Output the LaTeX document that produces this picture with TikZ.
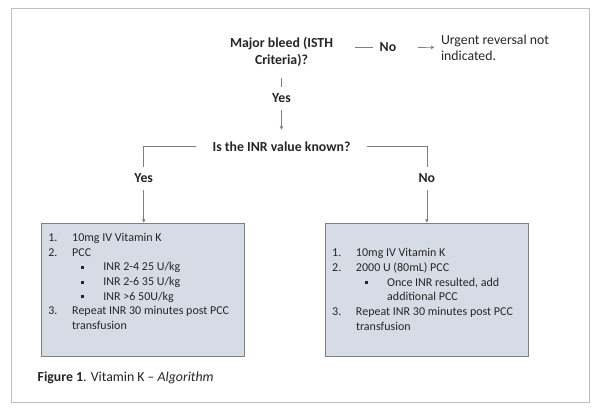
\documentclass[tikz,border=0pt]{standalone}
\usepackage{fontspec}
\setmainfont{Carlito}
\usepackage{xcolor}
\usetikzlibrary{arrows.meta,positioning}

\definecolor{boxfill}{HTML}{D6DCE5}
\definecolor{linegray}{HTML}{7F7F7F}
\definecolor{framegray}{HTML}{BFBFBF}
\definecolor{textdark}{HTML}{262626}

\newcommand{\numitem}[2]{\makebox[23.8pt][l]{#1}#2}
\newcommand{\planbullet}[1]{\hspace*{32.8pt}\makebox[22.2pt][l]{\rule[2pt]{3pt}{3pt}}#1}
\newcommand{\planindent}[1]{\hspace*{23.8pt}#1}

\begin{document}
\begin{tikzpicture}[
    x=1pt,
    y=-1pt,
    font=\fontsize{13.8}{16.6}\selectfont,
    every node/.style={text=textdark},
    decision/.style={
        align=center,
        font=\fontsize{13.8}{16.6}\selectfont\bfseries,
        inner xsep=#1,
        inner ysep=12pt
    },
    answer/.style={
        font=\fontsize{13.8}{16.6}\selectfont\bfseries,
        inner xsep=7pt,
        inner ysep=6.5pt
    },
    result/.style={
        align=left,
        font=\fontsize{13.8}{16}\selectfont,
        inner xsep=6.5pt
    },
    plan/.style={
        rectangle,
        draw=linegray,
        fill=boxfill,
        line width=0.8pt,
        minimum width=202.3pt,
        minimum height=133pt
    },
    steps/.style={
        align=left,
        anchor=north west,
        inner sep=0pt,
        font=\fontsize{12}{14.7}\selectfont
    },
    flowline/.style={line width=0.6pt, draw=linegray},
    flowarrow/.style={-{Triangle[length=3.2pt,width=3.2pt]}, line width=0.6pt, draw=linegray}
]

\useasboundingbox (0,0) rectangle (595,412);
\draw[framegray, line width=0.8pt] (11,8) rectangle (589,402);

\node[decision=22pt] (bleed) at (281.5,51.7) {Major bleed (ISTH\\Criteria)?};
\node[answer] (bleedno) at (388,47.5) {No};
\node[result, anchor=west] (noreversal) at (434.3,47.4) {Urgent reversal not\\indicated.};
\node[answer] (bleedyes) at (281.5,98.3) {Yes};
\node[decision=16pt] (inr) at (281.5,146.7) {Is the INR value known?};
\node[answer] (inryes) at (143.7,178.5) {Yes};
\node[answer] (inrno) at (426.8,178.5) {No};

\node[plan] (knownbox) at (142.85,289.5) {};
\node[plan] (unknownbox) at (426.75,289.5) {};

\node[steps] (knownsteps) at (48.2,233) {
    \numitem{1.}{10mg IV Vitamin K}\\
    \numitem{2.}{PCC}\\
    \planbullet{INR 2-4 25 U/kg}\\
    \planbullet{INR 2-6 35 U/kg}\\
    \planbullet{INR >6 50U/kg}\\
    \numitem{3.}{Repeat INR 30 minutes post PCC}\\
    \planindent{transfusion}};

\node[steps] (unknownsteps) at (332,248.4) {
    \numitem{1.}{10mg IV Vitamin K}\\
    \numitem{2.}{2000 U (80mL) PCC}\\
    \planbullet{Once INR resulted, add}\\
    \hspace*{55pt}additional PCC\\
    \numitem{3.}{Repeat INR 30 minutes post PCC}\\
    \planindent{transfusion}};

\node[anchor=west, inner sep=0pt] (figcaption) at (37.5,377.5)
    {\textbf{Figure 1}. Vitamin K -- \textit{Algorithm}};

\draw[flowline] (bleed.east |- bleedno.west) -- (bleedno.west);
\draw[flowarrow] ([xshift=14.4pt]bleedno.east) -- (noreversal.west);
\draw[flowline] (bleed.south) -- (bleedyes.north);
\draw[flowarrow] (bleedyes.south) -- (inr.north);
\draw[flowline] (inr.west) -| (inryes.north);
\draw[flowline] (inr.east) -| (inrno.north);

\foreach \a/\b in {inryes/knownbox,inrno/unknownbox}
    \draw[flowarrow] (\a.south) -- (\a.south |- \b.north);

\end{tikzpicture}
\end{document}
